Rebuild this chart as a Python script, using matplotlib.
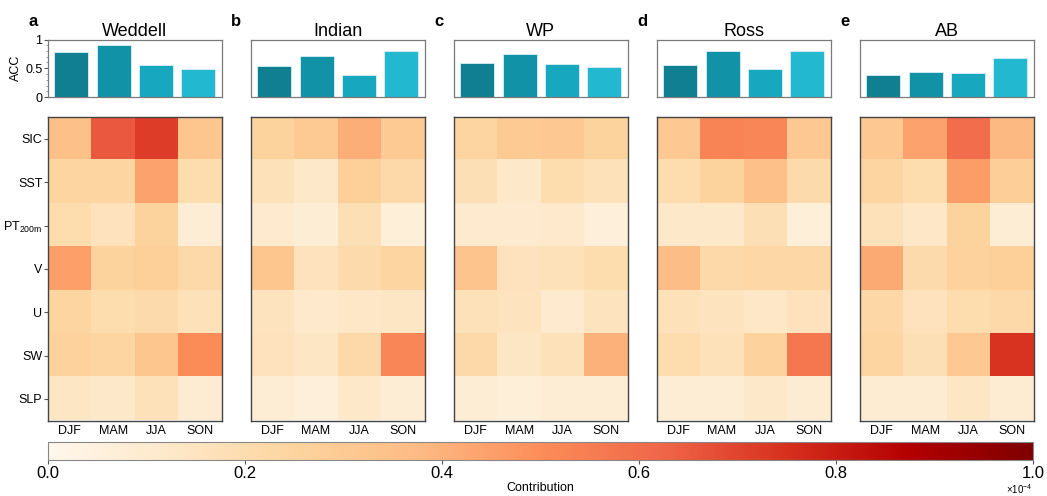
import numpy as np
import matplotlib
matplotlib.use("Agg")
import matplotlib.pyplot as plt
from matplotlib.ticker import MultipleLocator, FuncFormatter

plt.rcParams['font.family'] = ['Liberation Sans', 'DejaVu Sans']
plt.rcParams['mathtext.fontset'] = 'custom'
plt.rcParams['mathtext.rm'] = 'Liberation Sans'
plt.rcParams['mathtext.it'] = 'Liberation Sans:italic'

# Datos
regions = ['Weddell', 'Indian', 'WP', 'Ross', 'AB']
letters = ['a', 'b', 'c', 'd', 'e']
seasons = ['DJF', 'MAM', 'JJA', 'SON']
variables = ['SIC', 'SST', r'PT$_{\mathrm{200m}}$', 'V', 'U', 'SW', 'SLP']
bar_colors = ['#0f7f91', '#1292a7', '#17a8bf', '#22b8d0']

acc_weddell = [0.79, 0.91, 0.56, 0.48]
acc_indian = [0.54, 0.71, 0.39, 0.80]
acc_wp = [0.59, 0.75, 0.58, 0.53]
acc_ross = [0.55, 0.80, 0.48, 0.80]
acc_ab = [0.38, 0.43, 0.42, 0.68]

# contribucion en unidades de 1e-4 (filas: variables, columnas: estaciones)
contrib_weddell = [[0.35, 0.65, 0.72, 0.32],
                   [0.24, 0.24, 0.44, 0.20],
                   [0.20, 0.16, 0.25, 0.08],
                   [0.45, 0.25, 0.27, 0.22],
                   [0.24, 0.20, 0.21, 0.17],
                   [0.26, 0.24, 0.32, 0.50],
                   [0.14, 0.12, 0.17, 0.09]]
contrib_indian = [[0.25, 0.30, 0.41, 0.30],
                  [0.17, 0.12, 0.27, 0.22],
                  [0.10, 0.08, 0.18, 0.07],
                  [0.32, 0.16, 0.21, 0.24],
                  [0.15, 0.11, 0.13, 0.14],
                  [0.16, 0.14, 0.22, 0.52],
                  [0.08, 0.06, 0.12, 0.08]]
contrib_wp = [[0.24, 0.30, 0.31, 0.25],
              [0.18, 0.12, 0.20, 0.17],
              [0.10, 0.10, 0.11, 0.06],
              [0.33, 0.16, 0.17, 0.20],
              [0.17, 0.15, 0.10, 0.15],
              [0.22, 0.14, 0.17, 0.40],
              [0.08, 0.07, 0.08, 0.08]]
contrib_ross = [[0.31, 0.53, 0.52, 0.31],
                [0.20, 0.25, 0.35, 0.21],
                [0.12, 0.12, 0.18, 0.07],
                [0.36, 0.22, 0.23, 0.23],
                [0.17, 0.15, 0.13, 0.16],
                [0.20, 0.17, 0.26, 0.57],
                [0.08, 0.08, 0.12, 0.09]]
contrib_ab = [[0.31, 0.44, 0.60, 0.38],
              [0.24, 0.20, 0.46, 0.28],
              [0.17, 0.13, 0.25, 0.08],
              [0.42, 0.21, 0.26, 0.27],
              [0.23, 0.16, 0.20, 0.22],
              [0.24, 0.18, 0.31, 0.74],
              [0.09, 0.09, 0.14, 0.09]]

accs = [acc_weddell, acc_indian, acc_wp, acc_ross, acc_ab]
contribs = [contrib_weddell, contrib_indian, contrib_wp, contrib_ross, contrib_ab]

W, H = 1047, 496
fig = plt.figure(figsize=(W / 100, H / 100), dpi=100)

lefts = [48, 251, 454, 657, 860]
pw = 173.5

for i in range(5):
    x0 = lefts[i] / W
    # barras ACC
    axb = fig.add_axes([x0, 1 - 97 / H, pw / W, 57.5 / H])
    axb.bar(np.arange(4), accs[i], width=0.8, color=bar_colors,
            edgecolor='#d8f0f4', linewidth=0.6)
    axb.set_xlim(-0.55, 3.55)
    axb.set_ylim(0, 1)
    axb.set_xticks([])
    for s in axb.spines.values():
        s.set_color('#7a7a7a')
        s.set_linewidth(0.9)
    if i == 0:
        axb.set_yticks([0, 0.5, 1])
        axb.set_yticklabels(['0', '0.5', '1'])
        axb.yaxis.set_minor_locator(MultipleLocator(0.1))
        axb.tick_params(axis='y', which='major', labelsize=9, length=3, pad=1, color='#555555')
        axb.tick_params(axis='y', which='minor', length=1.5, color='#888888')
        axb.set_ylabel('ACC', fontsize=9, labelpad=2)
    else:
        axb.set_yticks([])
    axb.set_title(regions[i], fontsize=13, pad=2)
    fig.text(lefts[i] / W - 15 / W, 1 - 22 / H, letters[i], fontsize=12,
             fontweight='bold', ha='center', va='center')

    # mapa de calor de contribuciones
    axh = fig.add_axes([x0, 1 - 420.5 / H, pw / W, 303.2 / H])
    data = np.array(contribs[i]) * 1e-4
    im = axh.imshow(data, cmap='OrRd', vmin=0, vmax=1e-4, aspect='auto',
                    interpolation='nearest')
    axh.set_xticks(np.arange(4))
    axh.set_xticklabels(seasons, fontsize=9)
    axh.tick_params(axis='x', length=0, pad=3)
    if i == 0:
        axh.set_yticks(np.arange(7))
        axh.set_yticklabels(variables, fontsize=9)
        axh.tick_params(axis='y', length=3, pad=1, color='#555555')
    else:
        axh.set_yticks([])
    for s in axh.spines.values():
        s.set_color('#444444')
        s.set_linewidth(1.0)

# barra de colores
cax = fig.add_axes([48 / W, 1 - 460 / H, 985 / W, 18 / H])
cb = fig.colorbar(im, cax=cax, orientation='horizontal')
cb.set_ticks([0, 0.2e-4, 0.4e-4, 0.6e-4, 0.8e-4, 1e-4])
cb.formatter = FuncFormatter(lambda v, pos: f'{v * 1e4:.1f}')
cb.update_ticks()
cax.tick_params(labelsize=12, length=3, pad=1, color='#555555')
cb.outline.set_edgecolor('#888888')
cb.outline.set_linewidth(0.8)
cb.set_label('Contribution', fontsize=9, labelpad=1)
fig.text(1019 / W, 1 - 489 / H, r'$\times$10$^{-4}$', fontsize=7,
         ha='center', va='center')

plt.savefig('out.png', dpi=100)
